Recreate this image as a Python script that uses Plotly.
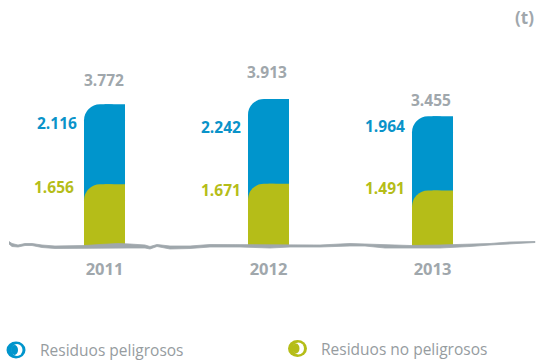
import plotly.graph_objects as go

years = ["2011", "2012", "2013"]
no_peligrosos = [1656, 1671, 1491]
peligrosos = [2116, 2242, 1964]
totales = [3772, 3913, 3455]
labels_total = ["3.772", "3.913", "3.455"]
labels_pel = ["2.116", "2.242", "1.964"]
labels_nop = ["1.656", "1.671", "1.491"]

# Hand-drawn baseline stroke (pixels)
stroke_x = [9, 12, 18, 25, 32, 42, 55, 70, 85, 100, 118, 130, 145, 150, 157, 170, 190, 210, 240, 270, 290, 320, 350, 365, 385, 410, 440, 470, 490, 510, 535]
stroke_top = [241.5, 243.5, 245, 243.5, 243.5, 245, 246, 246, 245.5, 244.5, 243.5, 244, 245, 246.5, 244.5, 246, 246, 244.5, 244.5, 245, 245, 245, 243.5, 244, 245, 245.5, 245, 244.5, 243.5, 242, 241.5]
stroke_bot = [244, 246.5, 247, 245.5, 245.5, 247.5, 248.5, 248.5, 248, 248.5, 248, 248, 248, 249, 246.5, 249, 248.5, 247, 247, 248, 247, 247, 246, 246, 248, 248, 248, 246.5, 245, 243.5, 242.5]

BLUE = "#0095cc"
GREEN = "#b5bd18"
GREY = "#a0a7ac"
TEXT_FONT = "Open Sans"
W, H = 538, 360
MB = 103
SLOT = 164.0
X0 = 104.5
ZERO = 246.8
SCALE = 0.0378
BAR = 0.25

def xd(px):
    return (px - X0) / SLOT

def yd(py):
    return (ZERO - py) / SCALE

xs = list(range(len(years)))
fig = go.Figure()

def add_bar(vals, color, yaxis):
    fig.add_bar(x=xs, y=vals, width=BAR, offset=-BAR / 2, yaxis=yaxis,
                marker=dict(color=color, line_width=0, cornerradius=16), showlegend=False)
    fig.add_bar(x=xs, y=vals, width=BAR / 2, offset=0, yaxis=yaxis,
                marker=dict(color=color, line_width=0), showlegend=False)

add_bar(totales, BLUE, "y")
add_bar(no_peligrosos, GREEN, "y2")

fig.add_scatter(
    x=[xd(v) for v in stroke_x] + [xd(v) for v in reversed(stroke_x)],
    y=[yd(v) for v in stroke_top] + [yd(v) for v in reversed(stroke_bot)],
    yaxis="y2",
    mode="lines", fill="toself", fillcolor="#9fa7ac", line=dict(width=0.8, color="#9fa7ac"),
    showlegend=False, hoverinfo="skip",
)

ann = []
total_dx = [-0.5, -2, -2]
total_dy = [24, 27, 16]
pel_dy = [19, 28, 10]
nop_dx = [-8, -5, -5]
nop_dy = [-3, -6, 2]
pel_dx = [-5, -5, -5]
for i in xs:
    ann.append(dict(x=i, y=totales[i], text=f"<b>{labels_total[i]}</b>", xshift=total_dx[i], yshift=total_dy[i],
                    showarrow=False, font=dict(family=TEXT_FONT, size=15.5, color=GREY)))
    ann.append(dict(x=i - BAR / 2, y=totales[i], text=f"<b>{labels_pel[i]}</b>", xanchor="right", xshift=pel_dx[i], yshift=-pel_dy[i],
                    showarrow=False, font=dict(family=TEXT_FONT, size=15.5, color="#0a93c9")))
    ann.append(dict(x=i - BAR / 2, y=no_peligrosos[i], text=f"<b>{labels_nop[i]}</b>", xanchor="right", xshift=nop_dx[i], yshift=nop_dy[i],
                    showarrow=False, font=dict(family=TEXT_FONT, size=15.5, color=GREEN)))

def px(x):
    return x / W

def py(y):
    return (H - MB - y) / (H - MB)

ann.append(dict(xref="paper", yref="paper", x=px(536), y=py(18), text="<b>(t)</b>", xanchor="right", yanchor="middle",
                showarrow=False, font=dict(family=TEXT_FONT, size=17, color=GREY)))
ann.append(dict(xref="paper", yref="paper", x=px(38), y=py(350), text="Residuos peligrosos", xanchor="left", yanchor="middle",
                showarrow=False, font=dict(family=TEXT_FONT, size=15.5, color="#969c9f")))
ann.append(dict(xref="paper", yref="paper", x=px(319), y=py(349), text="Residuos no peligrosos", xanchor="left", yanchor="middle",
                showarrow=False, font=dict(family=TEXT_FONT, size=15.5, color="#969c9f")))

shapes = []
def icon(cx, cy, color):
    def ell(rx, ry, c, dx=0):
        shapes.append(dict(type="circle", xref="paper", yref="paper", layer="above",
                           x0=px(cx + dx - rx), x1=px(cx + dx + rx), y0=py(cy + ry), y1=py(cy - ry),
                           fillcolor=c, line_width=0))
    ell(9.5, 8.5, color)
    ell(5.5, 6, "white", 1)
    ell(3.5, 5, color, -1.5)

icon(16, 350, BLUE)
icon(297.5, 348.5, GREEN)

yrange = [yd(H - MB), yd(0)]
fig.update_layout(
    width=W, height=H, autosize=False,
    barmode="overlay",
    margin=dict(l=0, r=0, t=0, b=MB, autoexpand=False),
    paper_bgcolor="white", plot_bgcolor="white",
    annotations=ann, shapes=shapes,
    xaxis=dict(range=[xd(0), xd(W)], tickvals=xs, ticktext=[f"<b>{y}</b>" for y in years],
               showgrid=False, zeroline=False, showline=False, ticks="",
               ticklabelstandoff=0, tickfont=dict(family=TEXT_FONT, size=16.5, color=GREY)),
    yaxis=dict(range=yrange, visible=False, showgrid=False, zeroline=False),
    yaxis2=dict(range=yrange, visible=False, showgrid=False, zeroline=False, overlaying="y", anchor="x"),
)
fig.write_html("out.html", config={"displayModeBar": False},
               post_script="document.body.style.margin='0';document.documentElement.style.overflow='hidden';")
